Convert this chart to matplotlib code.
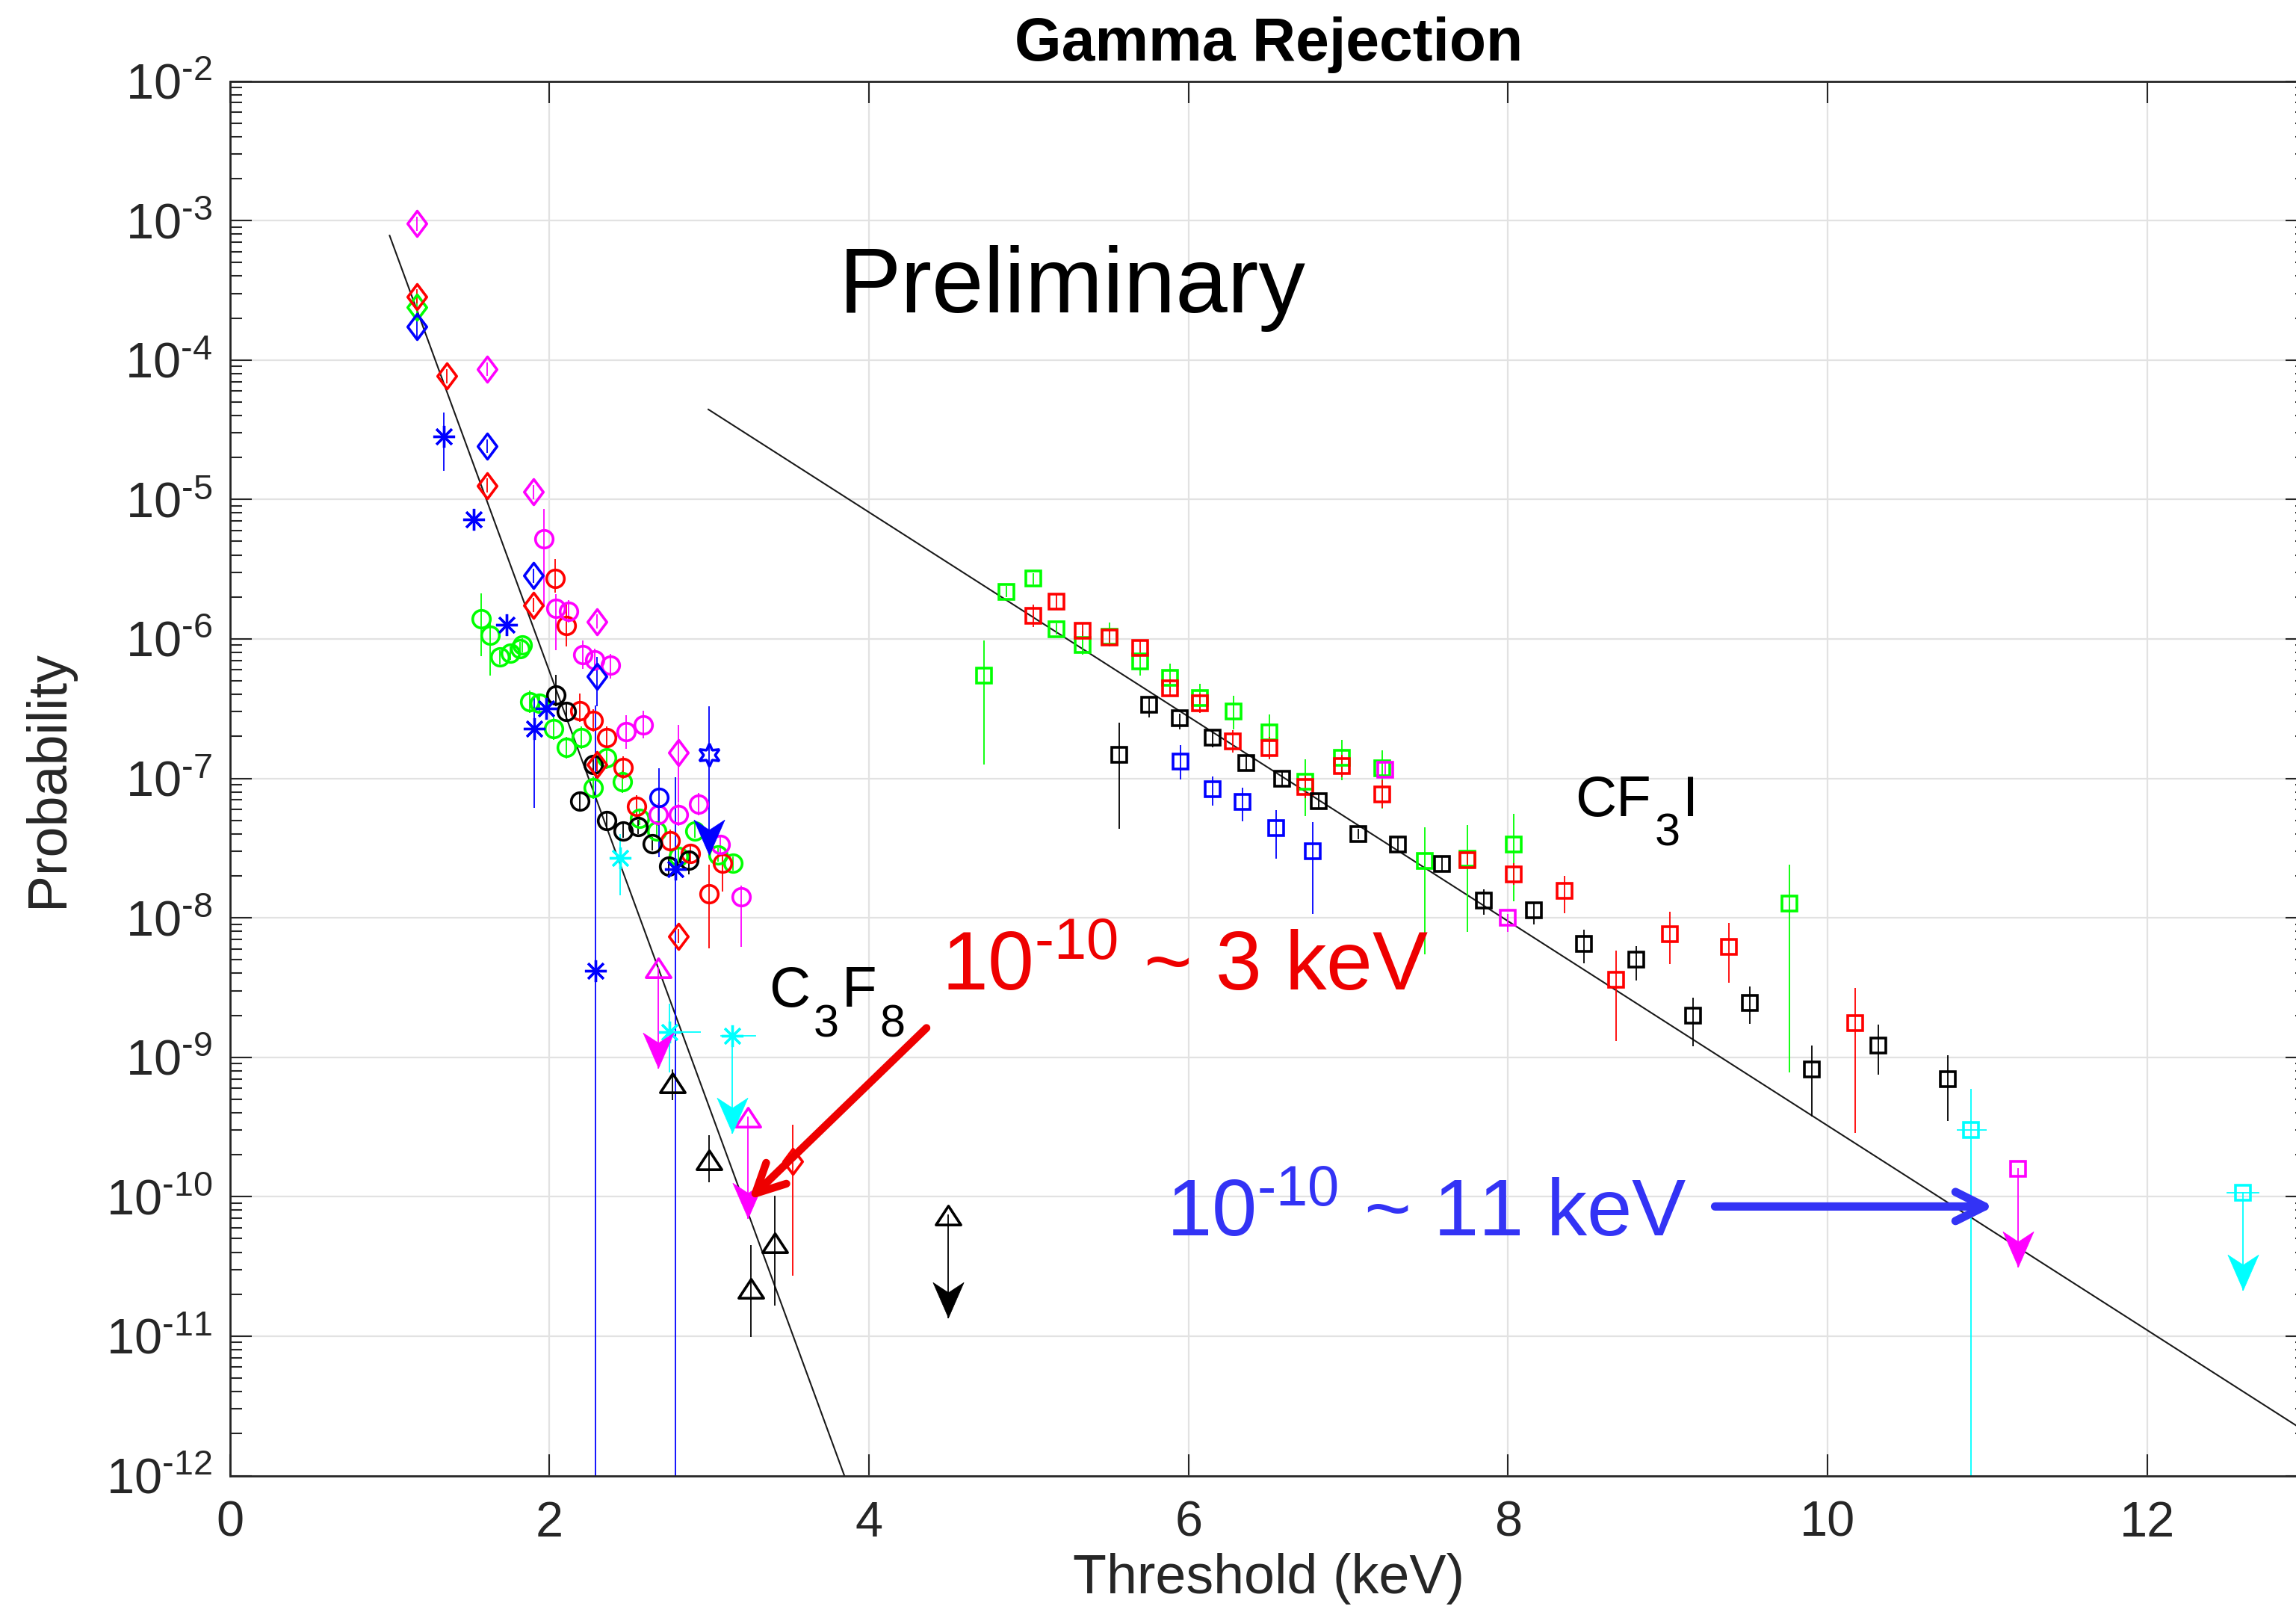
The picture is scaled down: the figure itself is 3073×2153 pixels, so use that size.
import numpy as np
import matplotlib
matplotlib.use('Agg')
import matplotlib.pyplot as plt
from matplotlib.path import Path
from matplotlib.ticker import LogLocator, NullFormatter, FuncFormatter

plt.rcParams['font.family'] = ['Liberation Sans', 'DejaVu Sans']
plt.rcParams['mathtext.fontset'] = 'custom'
plt.rcParams['mathtext.rm'] = 'Liberation Sans'
plt.rcParams['mathtext.it'] = 'Liberation Sans:italic'
plt.rcParams['mathtext.bf'] = 'Liberation Sans:bold'
plt.rcParams['axes.unicode_minus'] = False

HY = '\u2010'  # short hyphen, as in the original tick labels

# ---------------- data (threshold keV, probability, error bars in decades) -------------
# C3F8 circles
gc_x = [1.571, 1.630, 1.692, 1.755, 1.814, 1.830, 1.876, 1.940, 2.027, 2.106, 2.200, 2.273, 2.357, 2.457, 2.566, 2.670, 2.806, 2.911, 3.057, 3.151]
gc_y = [1.40e-6, 1.06e-6, 7.4e-7, 7.9e-7, 8.5e-7, 9.0e-7, 3.54e-7, 3.47e-7, 2.28e-7, 1.66e-7, 1.96e-7, 8.6e-8, 1.41e-7, 9.5e-8, 5.2e-8, 4.2e-8, 2.77e-8, 4.2e-8, 2.82e-8, 2.45e-8]
gc_up = [0.18, 0.10, 0.05, 0.05, 0.05, 0.05, 0.08, 0.06, 0.08, 0.08, 0.08, 0.08, 0.08, 0.08, 0.05, 0.05, 0.05, 0.05, 0.05, 0.05]
gc_dn = [0.27, 0.29, 0.05, 0.05, 0.05, 0.05, 0.08, 0.06, 0.08, 0.08, 0.08, 0.08, 0.08, 0.08, 0.05, 0.05, 0.05, 0.05, 0.05, 0.05]

rc_x = [2.037, 2.108, 2.190, 2.274, 2.357, 2.463, 2.545, 2.754, 2.880, 3.000, 3.082]
rc_y = [2.70e-6, 1.24e-6, 3.07e-7, 2.61e-7, 1.96e-7, 1.19e-7, 6.3e-8, 3.58e-8, 2.90e-8, 1.48e-8, 2.45e-8]
rc_up = [0.14, 0.15, 0.12, 0.08, 0.08, 0.08, 0.08, 0.08, 0.06, 0.21, 0.08]
rc_dn = [0.10, 0.15, 0.08, 0.08, 0.08, 0.08, 0.08, 0.10, 0.06, 0.39, 0.20]

mc_x = [1.968, 2.042, 2.121, 2.211, 2.284, 2.384, 2.478, 2.587, 2.681, 2.806, 2.932, 3.068, 3.200]
mc_y = [5.25e-6, 1.66e-6, 1.58e-6, 7.7e-7, 7.1e-7, 6.5e-7, 2.15e-7, 2.43e-7, 5.5e-8, 5.5e-8, 6.5e-8, 3.34e-8, 1.41e-8]
mc_up = [0.21, 0.10, 0.08, 0.10, 0.08, 0.08, 0.12, 0.10, 0.08, 0.08, 0.08, 0.06, 0.08]
mc_dn = [0.49, 0.30, 0.08, 0.10, 0.08, 0.10, 0.12, 0.10, 0.08, 0.08, 0.08, 0.06, 0.36]

kc_x = [2.039, 2.108, 2.190, 2.273, 2.357, 2.462, 2.556, 2.643, 2.748, 2.873]
kc_y = [3.98e-7, 3.0e-7, 6.9e-8, 1.25e-7, 5.0e-8, 4.2e-8, 4.5e-8, 3.4e-8, 2.34e-8, 2.58e-8]
kc_up = [0.14, 0.06, 0.06, 0.06, 0.06, 0.05, 0.05, 0.05, 0.06, 0.06]
kc_dn = [0.08, 0.06, 0.06, 0.06, 0.06, 0.05, 0.05, 0.05, 0.06, 0.10]

bc_x = [2.685]
bc_y = [7.3e-8]
bc_up = [0.21]
bc_dn = [0.43]

# C3F8 diamonds
md_x = [1.172, 1.609, 1.901, 2.296, 2.806]
md_y = [9.5e-4, 8.6e-5, 1.13e-5, 1.33e-6, 1.53e-7]
md_up = [0.05, 0.05, 0.05, 0.05, 0.20]
md_dn = [0.05, 0.05, 0.05, 0.05, 0.36]

rd_x = [1.172, 1.360, 1.609, 1.901, 2.296, 2.807, 3.521]
rd_y = [2.86e-4, 7.66e-5, 1.26e-5, 1.75e-6, 1.26e-7, 7.4e-9, 1.79e-10]
rd_up = [0.05, 0.05, 0.05, 0.05, 0.05, 0.05, 0.265]
rd_dn = [0.05, 0.05, 0.05, 0.05, 0.05, 0.05, 0.82]

gd_x = [1.172]
gd_y = [2.4e-4]
gd_up = [0.05]
gd_dn = [0.05]

bd_x = [1.172, 1.609, 1.901, 2.296]
bd_y = [1.73e-4, 2.41e-5, 2.84e-6, 5.36e-7]
bd_up = [0.08, 0.05, 0.05, 0.14]
bd_dn = [0.08, 0.05, 0.05, 0.21]

# C3F8 asterisks
bs_x = [1.339, 1.525, 1.732, 1.981, 1.904, 2.290, 2.787]
bs_y = [2.84e-5, 7.2e-6, 1.27e-6, 3.18e-7, 2.28e-7, 4.19e-9, 2.24e-8]
bs_up = [0.17, 0.03, 0.03, 0.08, 0.23, 1.90, 0.66]
bs_dn = [0.25, 0.03, 0.03, 0.08, 0.57, 5.0, 5.0]

cs_x = [2.441, 2.753]
cs_y = [2.69e-8, 1.52e-9]
cs_up = [0.17, 0.205]
cs_dn = [0.27, 0.29]
cs_xlo = [0.03, 0.055]
cs_xhi = [0.04, 0.195]

# C3F8 triangles
kt_x = [2.769, 2.998, 3.263, 3.412]
kt_y = [6.52e-10, 1.83e-10, 2.2e-11, 4.67e-11]
kt_up = [0.10, 0.18, 0.31, 0.34]
kt_dn = [0.12, 0.16, 0.35, 0.45]

# CF3I squares
gs_x = [4.719, 4.861, 5.028, 5.174, 5.337, 5.507, 5.695, 5.883, 6.071, 6.280, 6.506, 6.729, 6.959, 7.212, 7.478, 7.747, 8.036, 9.759]
gs_y = [5.46e-7, 2.18e-6, 2.70e-6, 1.18e-6, 9.1e-7, 1.04e-6, 6.9e-7, 5.25e-7, 3.77e-7, 3.02e-7, 2.13e-7, 9.5e-8, 1.40e-7, 1.18e-7, 2.57e-8, 2.67e-8, 3.37e-8, 1.26e-8]
gs_up = [0.25, 0.04, 0.04, 0.04, 0.10, 0.10, 0.06, 0.10, 0.10, 0.11, 0.13, 0.16, 0.13, 0.13, 0.24, 0.24, 0.22, 0.28]
gs_dn = [0.64, 0.04, 0.04, 0.04, 0.07, 0.07, 0.10, 0.10, 0.10, 0.13, 0.18, 0.25, 0.16, 0.29, 0.67, 0.53, 0.41, 1.21]

rs_x = [5.028, 5.174, 5.337, 5.507, 5.695, 5.883, 6.071, 6.276, 6.506, 6.729, 6.959, 7.212, 7.747, 8.036, 8.351, 8.678, 9.014, 9.384, 10.172]
rs_y = [1.47e-6, 1.85e-6, 1.14e-6, 1.02e-6, 8.6e-7, 4.45e-7, 3.47e-7, 1.84e-7, 1.65e-7, 8.7e-8, 1.23e-7, 7.7e-8, 2.60e-8, 2.06e-8, 1.56e-8, 3.58e-9, 7.6e-9, 6.2e-9, 1.76e-9]
rs_up = [0.08, 0.05, 0.06, 0.06, 0.06, 0.06, 0.07, 0.08, 0.08, 0.08, 0.08, 0.10, 0.06, 0.08, 0.11, 0.21, 0.16, 0.17, 0.25]
rs_dn = [0.08, 0.05, 0.06, 0.06, 0.06, 0.06, 0.07, 0.08, 0.08, 0.08, 0.08, 0.10, 0.06, 0.08, 0.16, 0.44, 0.21, 0.26, 0.79]

ks_x = [5.567, 5.755, 5.946, 6.150, 6.359, 6.585, 6.815, 7.064, 7.310, 7.587, 7.850, 8.160, 8.475, 8.804, 9.158, 9.513, 9.902, 10.315, 10.753]
ks_y = [1.48e-7, 3.37e-7, 2.70e-7, 1.95e-7, 1.29e-7, 1.0e-7, 6.9e-8, 3.99e-8, 3.37e-8, 2.43e-8, 1.33e-8, 1.13e-8, 6.5e-9, 5.0e-9, 1.98e-9, 2.45e-9, 8.2e-10, 1.21e-9, 6.97e-10]
ks_up = [0.23, 0.05, 0.03, 0.05, 0.05, 0.05, 0.05, 0.04, 0.05, 0.06, 0.08, 0.06, 0.10, 0.10, 0.13, 0.12, 0.17, 0.15, 0.17]
ks_dn = [0.53, 0.09, 0.08, 0.07, 0.05, 0.05, 0.05, 0.04, 0.05, 0.06, 0.10, 0.10, 0.14, 0.15, 0.22, 0.15, 0.34, 0.21, 0.30]

bq_x = [5.948, 6.150, 6.339, 6.548, 6.777]
bq_y = [1.32e-7, 8.4e-8, 6.8e-8, 4.4e-8, 3.0e-8]
bq_up = [0.12, 0.09, 0.10, 0.13, 0.21]
bq_dn = [0.13, 0.12, 0.14, 0.22, 0.45]

mq_x = [7.231, 8.0]
mq_y = [1.15e-7, 1.0e-8]
mq_up = [0.05, 0.03]
mq_dn = [0.05, 0.10]

cq_x = [10.898]
cq_y = [3.0e-10]
cq_up = [0.295]
cq_dn = [5.0]
cq_xlo = [0.088]
cq_xhi = [0.096]

# upper limits (marker, arrow tip)
ul_x = [2.683, 3.244, 4.497, 3.143, 2.998, 11.19, 12.598]
ul_y = [4.39e-9, 3.71e-10, 7.33e-11, 1.42e-9, 1.47e-7, 1.58e-10, 1.07e-10]
ul_top = [4.39e-9, 3.71e-10, 7.33e-11, 1.42e-9, 3.24e-7, 1.58e-10, 1.07e-10]
ul_tip = [8.4e-10, 7.0e-11, 1.36e-11, 2.86e-10, 2.83e-8, 3.13e-11, 2.16e-11]
ul_col = ['#ff00ff', '#ff00ff', '#000000', '#00ffff', '#0000ff', '#ff00ff', '#00ffff']
ul_mk = ['tri', 'tri', 'tri', 'ast', 'hex', 'sq', 'sq']
ul_xlo = [0, 0, 0, 0.071, 0, 0, 0.098]
ul_xhi = [0, 0, 0, 0.148, 0, 0, 0.10]

# fitted lines
c3f8_fit_x = [1.0, 3.846]
c3f8_fit_y = [7.8e-4, 1e-12]
cf3i_fit_x = [2.995, 13.0]
cf3i_fit_y = [4.42e-5, 2.04e-12]

# ---------------- markers ----------------
diamond = Path([(0, 1), (0.75, 0), (0, -1), (-0.75, 0), (0, 1)], [1, 2, 2, 2, 79])
tri = Path([(-1, -0.76), (1, -0.76), (0, 0.76), (-1, -0.76)], [1, 2, 2, 79])
head = Path([(0, 0), (0.436, 1), (0, 0.714), (-0.436, 1), (0, 0)], [1, 2, 2, 2, 79])
mk = {'o': ('o', 17), 'd': (diamond, 24.5), 'ast': ((8, 2, 0), 21), 'tri': (tri, 24),
      'sq': ('s', 14), 'hex': ((6, 1, 0), 22)}

R, G, B, M, C, K = '#ff0000', '#00ff00', '#0000ff', '#ff00ff', '#00ffff', '#000000'

fig = plt.figure(figsize=(30.73, 21.53), dpi=100)
ax = fig.add_axes([0.1001, 0.0829, 0.9047, 0.8667])


def series(x, y, up, dn, color, kind, xlo=None, xhi=None):
    x = np.array(x); y = np.array(y)
    lo = y - y * 10 ** (-np.array(dn))
    hi = y * 10 ** np.array(up) - y
    xerr = None if xlo is None else [xlo, xhi]
    ax.errorbar(x, y, yerr=[lo, hi], xerr=xerr, fmt='none', ecolor=color,
                elinewidth=1.3, capsize=0, zorder=2)
    m, ms = mk[kind]
    ax.plot(x, y, ls='none', marker=m, ms=ms, mec=color, mfc='none',
            mew=2.4 if kind == 'ast' else 2.6, zorder=3)


ax.plot(c3f8_fit_x, c3f8_fit_y, color='#1a1a1a', lw=1.5, zorder=1)
ax.plot(cf3i_fit_x, cf3i_fit_y, color='#1a1a1a', lw=1.5, zorder=1)

series(gc_x, gc_y, gc_up, gc_dn, G, 'o')
series(rc_x, rc_y, rc_up, rc_dn, R, 'o')
series(mc_x, mc_y, mc_up, mc_dn, M, 'o')
series(kc_x, kc_y, kc_up, kc_dn, K, 'o')
series(bc_x, bc_y, bc_up, bc_dn, B, 'o')
series(gd_x, gd_y, gd_up, gd_dn, G, 'd')
series(bd_x, bd_y, bd_up, bd_dn, B, 'd')
series(rd_x, rd_y, rd_up, rd_dn, R, 'd')
series(md_x, md_y, md_up, md_dn, M, 'd')
series(bs_x, bs_y, bs_up, bs_dn, B, 'ast')
series(cs_x, cs_y, cs_up, cs_dn, C, 'ast', cs_xlo, cs_xhi)
series(kt_x, kt_y, kt_up, kt_dn, K, 'tri')
series(gs_x, gs_y, gs_up, gs_dn, G, 'sq')
series(rs_x, rs_y, rs_up, rs_dn, R, 'sq')
series(ks_x, ks_y, ks_up, ks_dn, K, 'sq')
series(bq_x, bq_y, bq_up, bq_dn, B, 'sq')
series(mq_x, mq_y, mq_up, mq_dn, M, 'sq')
series(cq_x, cq_y, cq_up, cq_dn, C, 'sq', cq_xlo, cq_xhi)

# upper limits with arrow heads
for i in range(len(ul_x)):
    c = ul_col[i]
    ax.plot([ul_x[i], ul_x[i]], [ul_top[i], ul_tip[i]], color=c, lw=1.3, zorder=2)
    if ul_xhi[i] > 0:
        ax.plot([ul_x[i] - ul_xlo[i], ul_x[i] + ul_xhi[i]], [ul_y[i], ul_y[i]], color=c, lw=1.3, zorder=2)
    m, ms = mk[ul_mk[i]]
    ax.plot(ul_x[i], ul_y[i], ls='none', marker=m, ms=ms, mec=c, mfc='none',
            mew=2.4 if ul_mk[i] == 'ast' else 2.6, zorder=3)
    ax.plot(ul_x[i], ul_tip[i], ls='none', marker=head, ms=68, mec=c, mfc=c, mew=0.5, zorder=3)

# ---------------- axes ----------------
ax.set_yscale('log')
ax.set_xlim(0, 13)
ax.set_ylim(1e-12, 1e-2)
ax.set_xticks([0, 2, 4, 6, 8, 10, 12])
ax.yaxis.set_major_locator(LogLocator(base=10, numticks=20))
ax.yaxis.set_minor_locator(LogLocator(base=10, subs=np.arange(2, 10), numticks=20))
ax.yaxis.set_minor_formatter(NullFormatter())
ax.yaxis.set_major_formatter(FuncFormatter(
    lambda v, pos: r'$\mathdefault{10^{%s%d}}$' % (HY, -int(round(np.log10(v))))))
ax.grid(True, which='major', color='#e2e2e2', lw=1.6)
ax.set_axisbelow(True)
ax.tick_params(which='both', direction='in', top=True, right=True, color='#262626',
               width=1.5, labelcolor='#262626', labelsize=48)
ax.tick_params(which='major', length=21)
ax.tick_params(which='minor', length=11.5)
ax.tick_params(axis='x', pad=24)
ax.tick_params(axis='y', pad=17)
for s in ax.spines.values():
    s.set_color('#262626')
    s.set_linewidth(2)

ax.set_title('Gamma Rejection', fontweight='bold', fontsize=58, pad=20)
ax.set_xlabel('Threshold (keV)', fontsize=53, color='#262626')
ax.set_ylabel('Probability', fontsize=53, color='#262626')
ax.xaxis.set_label_coords(0.5, -0.0843)
ax.xaxis.label.set_va('baseline')
ax.yaxis.set_label_coords(-0.0874, 0.5)
ax.yaxis.label.set_va('center')

# ---------------- annotations ----------------
ax.text(3.81, 10 ** -3.661, 'Preliminary', fontsize=90, ha='left', va='baseline')

renderer = fig.canvas.get_renderer()


def formula(x, y, parts, size):
    # chemical formula with large, low subscripts
    off = 0.0
    for s, sub in parts:
        fs = size * 0.8 if sub else size
        t = ax.annotate(s, xy=(x, y), xycoords='data', xytext=(off, -29 if sub else 0),
                        textcoords='offset points', fontsize=fs, ha='left', va='baseline')
        off += t.get_window_extent(renderer).width * 72.0 / fig.dpi + 3


formula(3.373, 10 ** -8.637, [('C', False), ('3', True), ('F', False), ('8', True)], 55)
formula(8.42, 10 ** -7.269, [('CF', False), ('3', True), ('I', False)], 55)

ax.text(4.454, 10 ** -8.519, r'10$^{%s10}$ ~ 3 keV' % HY, fontsize=80, color='#ee0000',
        ha='left', va='baseline')
ax.text(5.861, 10 ** -10.286, r'10$^{%s10}$ ~ 11 keV' % HY, fontsize=78, color='#3333f5',
        ha='left', va='baseline')

ax.annotate('', xy=(3.25, 10 ** -10.02), xytext=(4.36, 10 ** -8.79),
            arrowprops=dict(arrowstyle='->,head_length=0.4,head_width=0.2', color='#ee0000',
                            lw=7.5, mutation_scale=70, shrinkA=0, shrinkB=0,
                            capstyle='round', joinstyle='round'))
ax.annotate('', xy=(11.04, 10 ** -10.07), xytext=(9.295, 10 ** -10.07),
            arrowprops=dict(arrowstyle='->,head_length=0.4,head_width=0.2', color='#3333f5',
                            lw=8, mutation_scale=70, shrinkA=0, shrinkB=0,
                            capstyle='round', joinstyle='round'))

fig.savefig('out.png', dpi=100)
